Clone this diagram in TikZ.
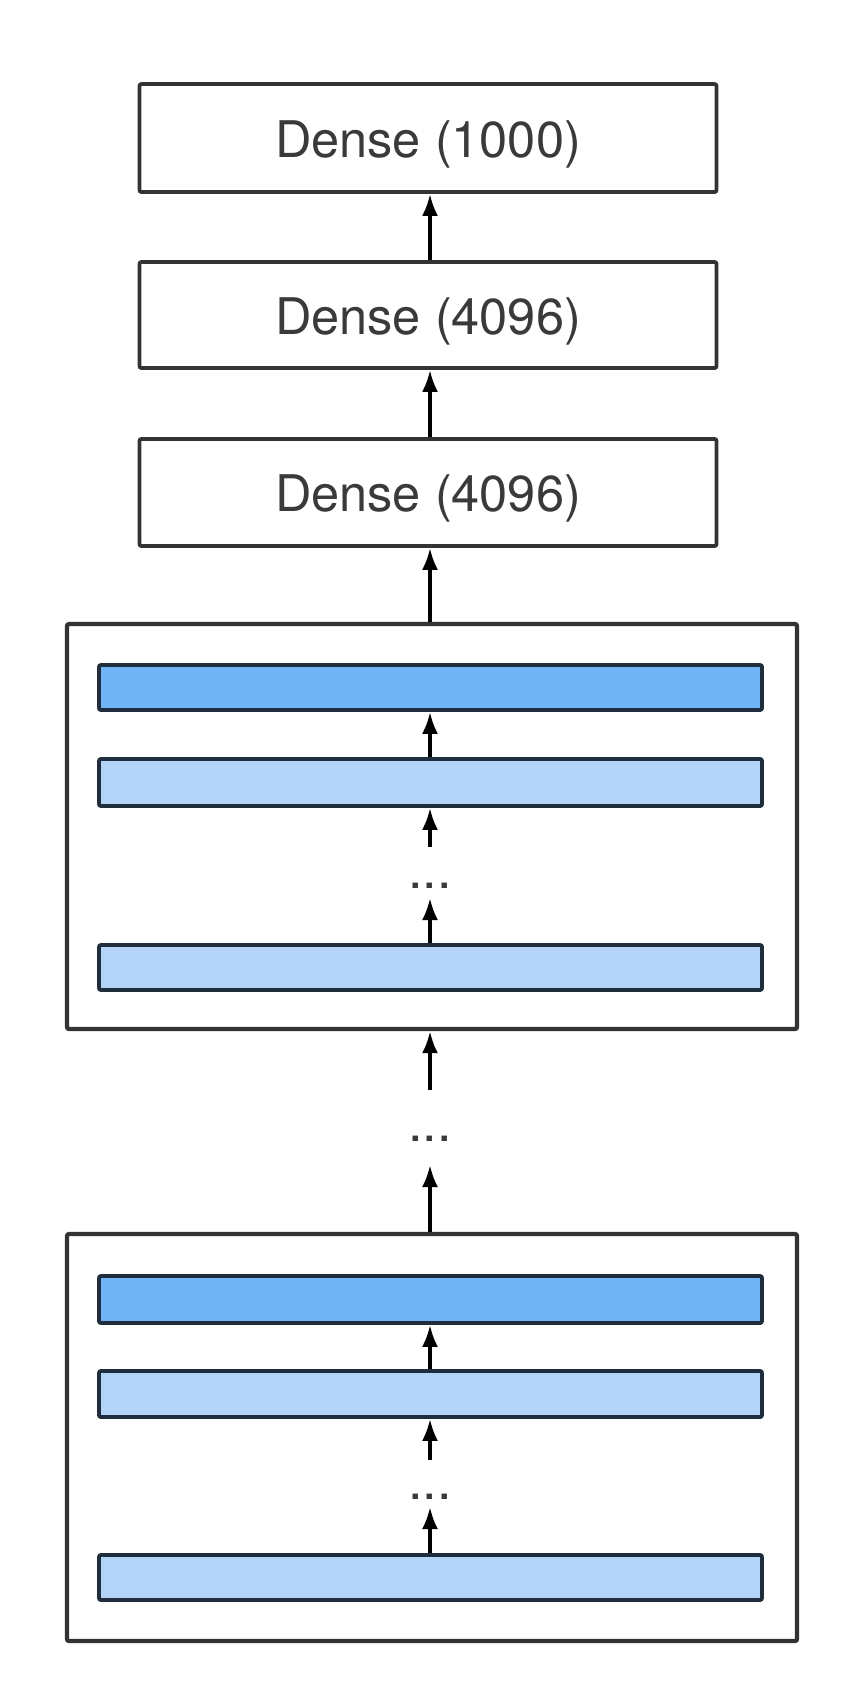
\documentclass[tikz,border=0pt]{standalone}
\usepackage{fontspec}
\setmainfont{TeX Gyre Heros}
\usetikzlibrary{arrows.meta}
\definecolor{edgegray}{HTML}{333333}
\definecolor{txtgray}{HTML}{3A3A3A}
\definecolor{barborder}{HTML}{1F2D3D}
\definecolor{bardark}{HTML}{70B4F5}
\definecolor{barlight}{HTML}{B3D3F7}
\newcommand\dnlbl[1]{\raisebox{-6pt}[\height][\depth]{#1}}
\tikzset{
  densebox/.style={draw=edgegray, line width=3.8pt, fill=white, rounded corners=2pt,
    minimum width=577pt, inner sep=0pt, text=txtgray,
    font=\fontsize{50.5}{58}\selectfont},
  blockbox/.style={draw=edgegray, line width=4.2pt, fill=white, rounded corners=2pt,
    minimum width=730pt, inner sep=0pt},
  barbox/.style={draw=barborder, line width=3.8pt, rounded corners=2pt,
    minimum width=663pt, inner sep=0pt},
  darkbar/.style={barbox, fill=bardark},
  lightbar/.style={barbox, fill=barlight},
  dotstext/.style={text=txtgray, inner sep=0pt, font=\fontsize{52}{60}\selectfont},
  arr/.style={-{Latex[length=22pt, width=16pt]}, line width=3.6pt, black}
}
\begin{document}
\begin{tikzpicture}[x=1pt, y=-1pt]
\useasboundingbox[fill=white] (0,0) rectangle (852,1694);
% dense layers
\node[densebox, minimum height=108pt] (d1000) at (428,138) {\dnlbl{Dense (1000)}};
\node[densebox, minimum height=106pt] (d4096a) at (428,315) {\dnlbl{Dense (4096)}};
\node[densebox, minimum height=107pt] (d4096b) at (428,492.5) {\dnlbl{Dense (4096)}};
% block 1
\node[blockbox, minimum height=405pt] (blk1) at (432,826.5) {};
\node[darkbar, minimum height=45pt] (bar1) at (430.5,687.5) {};
\node[lightbar, minimum height=47pt] (bar2) at (430.5,782.5) {};
\node[lightbar, minimum height=45pt] (bar3) at (430.5,967.5) {};
\node[dotstext] (dots1) at (430,886) {...};
\coordinate (c1) at (430,847);
\coordinate (c2) at (430,898);
% between blocks
\node[dotstext] (dots2) at (430,1139) {...};
\coordinate (c3) at (430,1090);
\coordinate (c4) at (430,1165);
% block 2
\node[blockbox, minimum height=407pt] (blk2) at (432,1437.5) {};
\node[darkbar, minimum height=47pt] (bar4) at (430.5,1299.5) {};
\node[lightbar, minimum height=46pt] (bar5) at (430.5,1394) {};
\node[lightbar, minimum height=45pt] (bar6) at (430.5,1577.5) {};
\node[dotstext] (dots3) at (430,1497) {...};
\coordinate (c5) at (430,1460);
\coordinate (c6) at (430,1507);
% arrows
\draw[arr] (d4096a.north -| c1) -- (d1000.south -| c1);
\draw[arr] (d4096b.north -| c1) -- (d4096a.south -| c1);
\draw[arr] (blk1.north -| c1) -- (d4096b.south -| c1);
\draw[arr] (bar2.north -| c1) -- (bar1.south -| c1);
\draw[arr] (c1) -- (bar2.south -| c1);
\draw[arr] (bar3.north -| c1) -- (c2);
\draw[arr] (c3) -- (blk1.south -| c1);
\draw[arr] (blk2.north -| c1) -- (c4);
\draw[arr] (bar5.north -| c1) -- (bar4.south -| c1);
\draw[arr] (c5) -- (bar5.south -| c1);
\draw[arr] (bar6.north -| c1) -- (c6);
\end{tikzpicture}
\end{document}
